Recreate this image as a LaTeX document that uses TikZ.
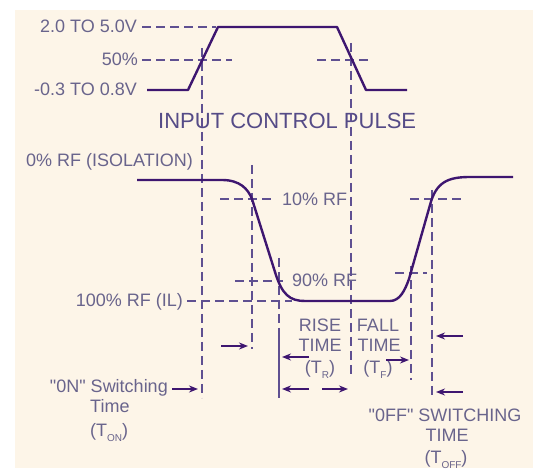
\documentclass[tikz,border=0pt]{standalone}
\usepackage{fontspec}
\setmainfont{Liberation Sans}
\usetikzlibrary{arrows.meta}
\definecolor{bgc}{RGB}{253,245,232}
\definecolor{wave}{RGB}{62,22,112}
\definecolor{dashc}{RGB}{95,80,145}
\definecolor{txt}{RGB}{105,100,140}
\definecolor{ttl}{RGB}{85,75,135}
\newcommand{\mysub}[1]{\raisebox{-0.5ex}{\fontsize{10}{10}\selectfont #1}}
\begin{document}
\begin{tikzpicture}[x=1pt,y=-1pt,
  wavel/.style={draw=wave,line width=2.4pt,line join=round},
  guide/.style={draw=dashc,line width=1.8pt,dash pattern=on 9pt off 5pt},
  solidguide/.style={draw=dashc,line width=1.8pt},
  lbl/.style={text=txt,font=\fontsize{18}{21.5}\selectfont,inner sep=0pt},
  ttlstyle/.style={text=ttl,font=\fontsize{22}{26}\selectfont,inner sep=0pt},
  arr/.style={draw=wave,line width=1.8pt,-{Stealth[length=9pt,width=7pt]}},
]
\useasboundingbox (0,0) rectangle (539,470);
\fill[white] (0,0) rectangle (539,470);
\fill[bgc] (15,10) rectangle (533,468);

% ---------- labels ----------
\node[lbl,anchor=base east] (hi) at (137,33) {2.0 TO 5.0V};
\node[lbl,anchor=base east] (half) at (138,66) {50\%};
\node[lbl,anchor=base east] (lo) at (137,96) {-0.3 TO 0.8V};
\node[ttlstyle,anchor=base west] (title) at (158,129) {INPUT CONTROL PULSE};
\node[lbl,anchor=base east] (iso) at (193,167) {0\% RF (ISOLATION)};
\node[lbl,anchor=base west] (ten) at (282,206) {10\% RF};
\node[lbl,anchor=base west] (ninety) at (292,287) {90\% RF};
\node[lbl,anchor=base east] (il) at (183,307) {100\% RF (IL)};
\node[lbl,anchor=base] (rise1) at (320,332) {RISE};
\node[lbl,anchor=base] (rise2) at (320,352) {TIME};
\node[lbl,anchor=base] (rise3) at (320,374) {(T\mysub{R})};
\node[lbl,anchor=base] (fall1) at (378,332) {FALL};
\node[lbl,anchor=base] (fall2) at (379,352) {TIME};
\node[lbl,anchor=base] (fall3) at (378,374) {(T\mysub{F})};
\node[lbl,anchor=base east] (on1) at (168,393) {\textquotedbl 0N\textquotedbl\ Switching};
\node[lbl,anchor=base west] (on2) at (90,413) {Time};
\node[lbl,anchor=base west] (on3) at (90,437) {(T\mysub{ON})};
\node[lbl,anchor=base] (off1) at (445,422) {\textquotedbl 0FF\textquotedbl\ SWITCHING};
\node[lbl,anchor=base] (off2) at (447,442) {TIME};
\node[lbl,anchor=base] (off3) at (446,464) {(T\mysub{OFF})};

% ---------- guide coordinates ----------
\coordinate (h1a) at (142,27);  \coordinate (h1b) at (216,27);
\coordinate (h2a) at (142,60);  \coordinate (h2b) at (232,60);
\coordinate (h3a) at (317,60);  \coordinate (h3b) at (369,60);
\coordinate (h4a) at (220,199); \coordinate (h4b) at (273,199);
\coordinate (h5a) at (410,199); \coordinate (h5b) at (463,199);
\coordinate (h6a) at (235,281); \coordinate (h6b) at (283,281);
\coordinate (h7a) at (395,273); \coordinate (h7b) at (427,273);
\coordinate (h8a) at (187,301); \coordinate (h8b) at (292,301);
\coordinate (v1a) at (202,48);  \coordinate (v1b) at (202,398);
\coordinate (v2a) at (351,43);  \coordinate (v2b) at (351,378);
\coordinate (v3a) at (252,165); \coordinate (v3b) at (252,349);
\coordinate (v4a) at (279,258); \coordinate (v4m) at (279,333); \coordinate (v4b) at (279,398);
\coordinate (v5a) at (411,266); \coordinate (v5b) at (411,380);
\coordinate (v6a) at (432,190); \coordinate (v6b) at (432,398);

\draw[guide] (h1a) -- (h1b);
\draw[guide] (h2a) -- (h2b);
\draw[guide] (h3a) -- (h3b);
\draw[guide] (h4a) -- (h4b);
\draw[guide] (h5a) -- (h5b);
\draw[guide] (h6a) -- (h6b);
\draw[guide] (h7a) -- (h7b);
\draw[guide] (h8a) -- (h8b);
\draw[guide] (v1a) -- (v1b);
\draw[guide] (v2a) -- (v2b);
\draw[guide] (v3a) -- (v3b);
\draw[guide] (v4a) -- (v4m);
\draw[solidguide] (v4m) -- (v4b);
\draw[guide] (v5a) -- (v5b);
\draw[guide] (v6a) -- (v6b);

% ---------- input pulse ----------
\coordinate (p0) at (147,90);
\coordinate (p1) at (188,90);
\coordinate (p2) at (218,27);
\coordinate (p3) at (337,27);
\coordinate (p4) at (366,90);
\coordinate (p5) at (407,90);
\draw[wavel] (p0) -- (p1) -- (p2) -- (p3) -- (p4) -- (p5);

% ---------- RF output ----------
\coordinate (r0) at (137,180);
\coordinate (r1) at (222,180);
\coordinate (r2) at (252,199);
\coordinate (r3) at (275,272);
\coordinate (r4) at (305,301);
\coordinate (r5) at (390,301);
\coordinate (r6) at (409,279);
\coordinate (r7) at (430,205);
\coordinate (r8) at (470,177);
\coordinate (r9) at (513,177);
\draw[wavel] (r0) -- (r1) .. controls (240,180) and (248,189) .. (r2)
  -- (r3) .. controls (282,295) and (290,301) .. (r4)
  -- (r5) .. controls (400,301) and (405,290) .. (r6)
  -- (r7) .. controls (436,182) and (448,177) .. (r8) -- (r9);

% ---------- arrows ----------
\coordinate (a1s) at (221,346); \coordinate (a1e) at (248,346);
\coordinate (a2s) at (172,389); \coordinate (a2e) at (198,389);
\coordinate (a3s) at (309,357); \coordinate (a3e) at (282,357);
\coordinate (a4s) at (309,389); \coordinate (a4e) at (282,389);
\coordinate (a5s) at (322,389); \coordinate (a5e) at (348,389);
\coordinate (a6s) at (386,360); \coordinate (a6e) at (409,360);
\coordinate (a7s) at (463,336); \coordinate (a7e) at (436,336);
\coordinate (a8s) at (463,392); \coordinate (a8e) at (436,392);
\draw[arr] (a1s) -- (a1e);
\draw[arr] (a2s) -- (a2e);
\draw[arr] (a3s) -- (a3e);
\draw[arr] (a4s) -- (a4e);
\draw[arr] (a5s) -- (a5e);
\draw[arr] (a6s) -- (a6e);
\draw[arr] (a7s) -- (a7e);
\draw[arr] (a8s) -- (a8e);
\end{tikzpicture}
\end{document}
